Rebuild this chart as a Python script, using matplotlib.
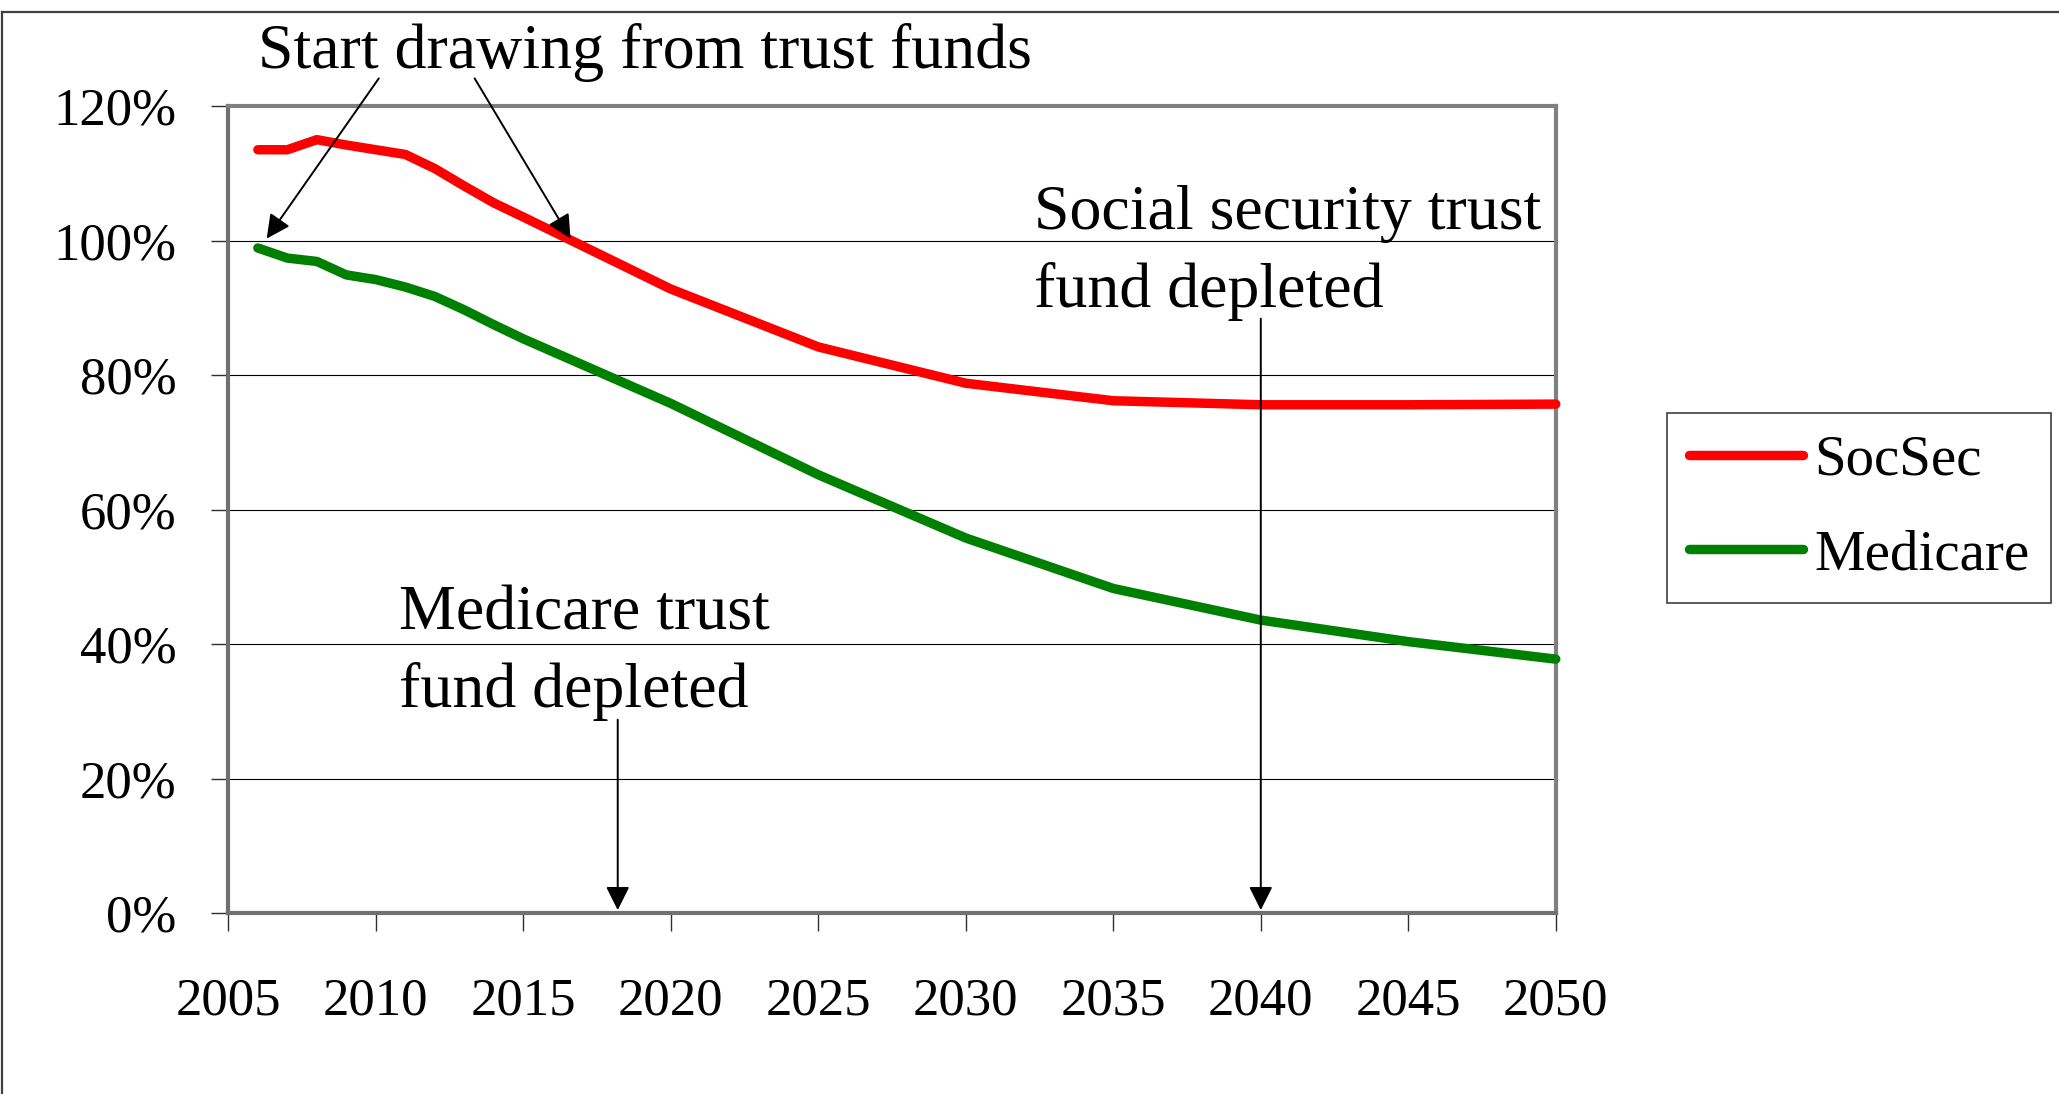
import matplotlib
matplotlib.use("Agg")
import matplotlib.pyplot as plt
from matplotlib.lines import Line2D

plt.rcParams["font.family"] = ["Liberation Serif", "DejaVu Serif"]

# data (percent)
years = [2006, 2007, 2008, 2009, 2010, 2011, 2012, 2013, 2014, 2015,
         2020, 2025, 2030, 2035, 2040, 2045, 2050]
socsec = [113.5, 113.5, 115.0, 114.2, 113.5, 112.8, 110.7, 108.1, 105.6, 103.5,
          92.8, 84.2, 78.8, 76.2, 75.6, 75.6, 75.7]
medicare = [98.9, 97.4, 96.9, 94.9, 94.2, 93.1, 91.7, 89.7, 87.5, 85.4,
            75.8, 65.2, 55.8, 48.3, 43.6, 40.4, 37.8]
xticks = [2005, 2010, 2015, 2020, 2025, 2030, 2035, 2040, 2045, 2050]
yticks = [0, 20, 40, 60, 80, 100, 120]

fig = plt.figure(figsize=(20.59, 10.94), dpi=100)
ax = fig.add_axes([0.1109, 0.1650, 0.6447, 0.7381])

# grid lines
for v in yticks[1:-1]:
    ax.axhline(v, color="black", lw=0.8, zorder=1)

ax.plot(years, socsec, color="#ff0000", lw=6.8, label="SocSec",
        solid_capstyle="round", solid_joinstyle="round", zorder=3, clip_on=False)
ax.plot(years, medicare, color="#008000", lw=6.8, label="Medicare",
        solid_capstyle="round", solid_joinstyle="round", zorder=3, clip_on=False)

ax.set_xlim(2005, 2050)
ax.set_ylim(0, 120)
ax.set_xticks(xticks)
ax.set_xticklabels([str(y) for y in xticks])
ax.set_yticks(yticks)
ax.set_yticklabels(["%d%%" % v for v in yticks])
ax.tick_params(axis="x", direction="out", length=13, width=1, color="#303030",
               labelsize=38, pad=33)
ax.tick_params(axis="y", direction="out", length=12.5, width=1, color="#303030",
               labelsize=38, pad=25)

for s in ["top", "right"]:
    ax.spines[s].set_color("#808080")
    ax.spines[s].set_linewidth(3)
for s in ["left", "bottom"]:
    ax.spines[s].set_color("#707070")
    ax.spines[s].set_linewidth(3)

# arrows
arrow = dict(arrowstyle="-|>", color="black", lw=1.4, mutation_scale=36,
             shrinkA=0, shrinkB=0)
ax.annotate("", xy=(2006.3, 100.3), xytext=(2010.1, 124.1), arrowprops=arrow,
            annotation_clip=False, zorder=5)
ax.annotate("", xy=(2016.6, 100.3), xytext=(2013.35, 124.1), arrowprops=arrow,
            annotation_clip=False, zorder=5)
ax.annotate("", xy=(2018.2, 0.5), xytext=(2018.2, 28.8), arrowprops=arrow,
            annotation_clip=False, zorder=5)
ax.annotate("", xy=(2040, 0.5), xytext=(2040, 88.4), arrowprops=arrow,
            annotation_clip=False, zorder=5)

ax.text(2006.0, 125.6, "Start drawing from trust funds", fontsize=46,
        ha="left", va="baseline", clip_on=False)
# multi-line text: baseline anchor is the last line
ax.text(2010.8, 30.7, "Medicare trust\nfund depleted", fontsize=46,
        ha="left", va="baseline", linespacing=1.42, clip_on=False)
ax.text(2032.3, 90.1, "Social security trust\nfund depleted", fontsize=46,
        ha="left", va="baseline", linespacing=1.42, clip_on=False)

leg = ax.legend(loc="upper left", bbox_to_anchor=(1667 / 2059, 1 - 413 / 1094),
                bbox_transform=fig.transFigure, fontsize=41, frameon=True,
                fancybox=False, framealpha=1, edgecolor="#404040",
                borderaxespad=0, borderpad=0.38, labelspacing=0.75,
                handlelength=2.0, handletextpad=0.2)
leg.get_frame().set_linewidth(1.2)

# chart area border (top and left edges visible)
fig.add_artist(Line2D([0.0008, 0.0008], [0, 0.9893], color="#404040", lw=1.6))
fig.add_artist(Line2D([0.0008, 1], [0.9893, 0.9893], color="#404040", lw=1.6))

fig.savefig("out.png", dpi=100)
